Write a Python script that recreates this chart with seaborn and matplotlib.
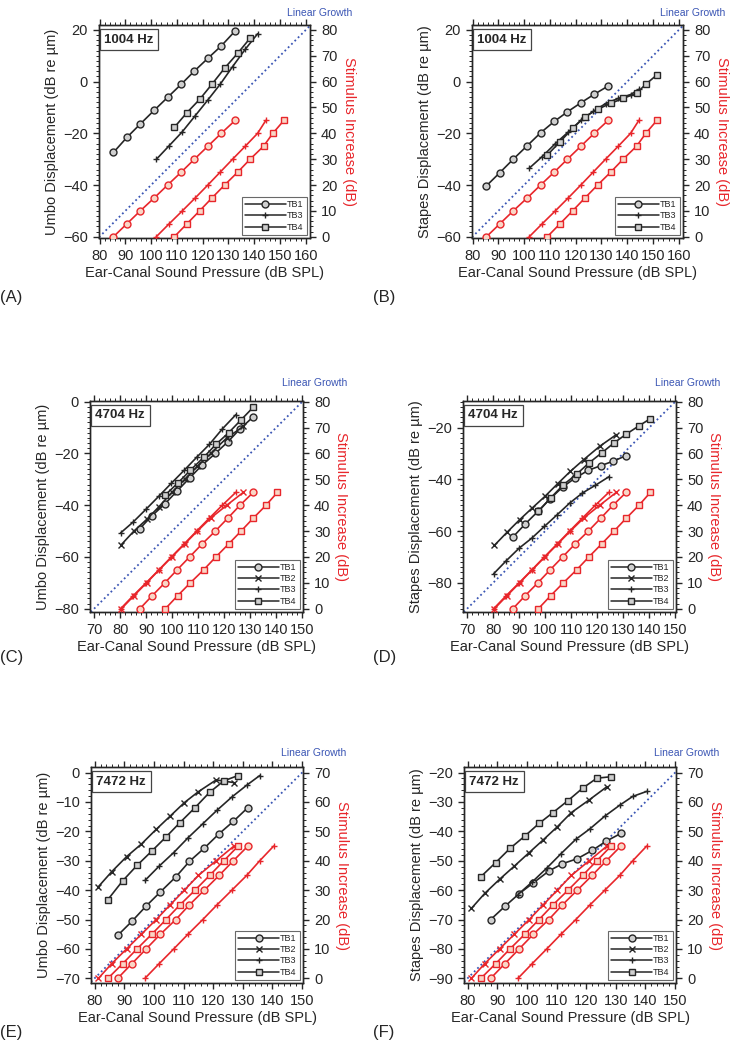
import matplotlib
matplotlib.use("Agg")
import matplotlib.pyplot as plt
from matplotlib.lines import Line2D
from matplotlib.ticker import MultipleLocator
import seaborn as sns

# stimulus increase steps (dB)
stim = [0, 5, 10, 15, 20, 25, 30, 35, 40, 45]

# ---- 1004 Hz ----
spl_1004_tb1 = [85.4, 90.6, 95.8, 101.2, 106.4, 111.7, 116.8, 122.0, 127.2, 132.6]
spl_1004_tb3 = [102.0, 107.0, 112.1, 117.1, 122.0, 126.8, 131.6, 136.5, 141.3, 144.5]
spl_1004_tb4 = [109.0, 113.9, 118.8, 123.6, 128.5, 133.6, 138.4, 143.6, 147.2, 151.5]
umbo_1004_tb1 = [-27.4, -21.6, -16.4, -11.1, -6.1, -1.0, 4.1, 9.0, 13.8, 19.6]
umbo_1004_tb3 = [-30.1, -24.8, -19.4, -13.2, -7.1, -1.0, 5.8, 12.5, 18.5]
umbo_1004_tb4 = [-17.7, -12.0, -6.9, -1.0, 5.2, 11.0, 16.8]
stapes_1004_tb1 = [-40.3, -35.2, -30.0, -24.8, -19.8, -15.4, -11.7, -8.2, -4.9, -1.7]
stapes_1004_tb3 = [-33.5, -29.0, -24.0, -19.5, -15.0, -11.5, -8.5, -6.5, -5.0, -3.0]
stapes_1004_tb4 = [-28.4, -23.3, -18.1, -13.6, -10.7, -8.4, -6.5, -4.5, -1.0, 2.6]

# ---- 4704 Hz ----
spl_4704_tb1 = [87.6, 92.3, 97.2, 101.9, 106.7, 111.5, 116.6, 121.4, 126.1, 131.2]
spl_4704_tb2 = [80.5, 85.3, 90.2, 95.0, 99.9, 104.8, 109.7, 114.8, 121.0, 127.4]
spl_4704_tb3 = [80.2, 85.0, 90.0, 94.9, 99.7, 104.6, 109.4, 114.3, 119.3, 124.5]
spl_4704_tb4 = [97.4, 102.1, 107.0, 112.1, 116.8, 121.7, 126.5, 131.2, 136.1, 140.5]
umbo_4704_tb1 = [-49.0, -44.0, -39.5, -34.5, -29.5, -24.5, -20.0, -15.5, -10.5, -5.8]
umbo_4704_tb2 = [-55.2, -50.0, -45.5, -40.5, -35.0, -30.0, -25.0, -20.0, -14.0, -9.5]
umbo_4704_tb3 = [-50.7, -46.5, -41.5, -36.5, -31.5, -26.5, -21.5, -16.5, -10.5, -5.0]
umbo_4704_tb4 = [-36.0, -31.5, -26.5, -21.5, -16.5, -12.0, -7.0, -2.1]
stapes_4704_tb1 = [-62.3, -57.3, -52.4, -47.5, -43.0, -39.5, -36.5, -34.7, -33.0, -30.8]
stapes_4704_tb2 = [-65.5, -60.5, -55.6, -51.1, -46.6, -41.7, -36.9, -32.4, -27.2, -22.7]
stapes_4704_tb3 = [-76.5, -71.5, -66.6, -62.7, -58.2, -53.7, -49.2, -45.3, -42.3, -39.0]
stapes_4704_tb4 = [-52.4, -47.2, -42.1, -38.0, -33.7, -29.8, -25.9, -22.5, -19.3, -16.5]

# ---- 7472 Hz ----
spl_7472_tb1 = [87.8, 92.6, 97.4, 102.2, 107.4, 112.0, 117.0, 122.0, 126.8, 131.7]
spl_7472_tb2 = [81.3, 85.8, 90.8, 95.8, 100.8, 105.5, 110.3, 115.0, 121.0, 127.0]
spl_7472_tb3 = [97.0, 101.8, 106.7, 111.5, 116.5, 121.3, 126.3, 131.3, 135.7, 140.4]
spl_7472_tb4 = [84.5, 89.5, 94.3, 99.3, 104.1, 108.8, 113.9, 118.8, 123.6, 128.4]
umbo_7472_tb1 = [-55.4, -50.6, -45.4, -40.6, -35.5, -30.2, -25.7, -20.8, -16.6, -11.9]
umbo_7472_tb2 = [-38.8, -33.7, -28.6, -24.3, -19.3, -14.8, -10.2, -6.5, -2.5, -3.4]
umbo_7472_tb3 = [-36.7, -31.8, -27.2, -22.2, -17.4, -12.8, -8.3, -4.3, -1.0]
umbo_7472_tb4 = [-43.2, -36.8, -31.6, -26.7, -21.9, -17.0, -11.9, -6.7, -2.8, -1.0]
stapes_7472_tb1 = [-70.0, -65.5, -61.2, -57.5, -53.5, -51.0, -49.3, -46.5, -43.3, -40.7]
stapes_7472_tb2 = [-66.2, -61.1, -56.3, -51.8, -47.2, -42.9, -38.4, -33.6, -29.3, -24.8]
stapes_7472_tb3 = [-61.5, -57.2, -52.5, -47.6, -42.7, -39.1, -34.8, -31.1, -28.1, -26.4]
stapes_7472_tb4 = [-55.4, -50.6, -45.8, -41.6, -37.3, -33.6, -29.5, -25.3, -21.9, -21.4]

# linear growth reference: start point (SPL, displacement), slope 1 dB/dB
lin_1004_umbo = (80, -60)
lin_1004_stapes = (80, -60)
lin_4704_umbo = (70, -80)
lin_4704_stapes = (70, -90)
lin_7472_umbo = (80, -70)
lin_7472_stapes = (80, -90)

MARKERS = {"TB1": "o", "TB2": "x", "TB3": "+", "TB4": "s"}
BLACK = "#262626"
RED = "#e8262b"
BLUE = "#3a55b4"

sns.set_style("ticks")
plt.rcParams["font.family"] = ["Liberation Sans", "DejaVu Sans"]
plt.rcParams["font.size"] = 10


def draw_panel(rect, freq, black, red, xlim, ylim, offset, xmajor, ymajor,
               ylabel, lin0, letter, letter_xy, lg_xy):
    ax = fig.add_axes(rect)
    ax2 = ax.twinx()

    # linear growth line
    ax.axline(lin0, slope=1, color=BLUE, lw=1.3, ls=(0, (1, 1.6)), zorder=1)

    for name, xs, ys in black:
        mk = MARKERS[name]
        sns.lineplot(x=xs[:len(ys)], y=ys, ax=ax, color=BLACK, lw=1.2,
                     marker=mk, markersize=5 if mk != "+" else 5,
                     markerfacecolor="#cfcfcf" if mk in "os" else BLACK,
                     markeredgecolor=BLACK, markeredgewidth=1.0,
                     sort=False, legend=False, zorder=3)
    for name, xs, ys in red:
        mk = MARKERS[name]
        sns.lineplot(x=xs, y=ys, ax=ax2, color=RED, lw=1.2,
                     marker=mk, markersize=5,
                     markerfacecolor="#f9d6c6" if mk in "os" else RED,
                     markeredgecolor=RED, markeredgewidth=1.0,
                     sort=False, legend=False, zorder=3)

    ax.set_xlim(xlim)
    ax.set_ylim(ylim)
    ax2.set_ylim(ylim[0] + offset, ylim[1] + offset)
    ax.xaxis.set_major_locator(MultipleLocator(xmajor))
    ax.xaxis.set_minor_locator(MultipleLocator(2))
    ax.yaxis.set_major_locator(MultipleLocator(ymajor))
    ax.yaxis.set_minor_locator(MultipleLocator(2))
    ax2.yaxis.set_major_locator(MultipleLocator(10))
    ax2.yaxis.set_minor_locator(MultipleLocator(2))

    ax.tick_params(axis="x", which="both", top=True, direction="out")
    ax.tick_params(which="major", length=4, width=1.0, labelsize=10.5, pad=4)
    ax.tick_params(which="minor", length=2.5, width=0.7)
    ax2.tick_params(which="major", length=4, width=1.0, labelsize=10.5, pad=4)
    ax2.tick_params(which="minor", length=2.5, width=0.7)
    for a in (ax, ax2):
        for sp in a.spines.values():
            sp.set_visible(True)
            sp.set_linewidth(1.0)

    ax.set_xlabel("Ear-Canal Sound Pressure (dB SPL)", fontsize=10.5, labelpad=2)
    ax.set_ylabel(ylabel, fontsize=10.5, labelpad=3)
    ax2.set_ylabel("Stimulus Increase (dB)", color=RED, rotation=270,
                   fontsize=10.5, labelpad=13)

    ax.text(0.025, 0.96, freq, transform=ax.transAxes, ha="left", va="top",
            fontsize=9.5, fontweight="bold", zorder=6,
            bbox=dict(boxstyle="square,pad=0.35", fc="white", ec="#444444", lw=0.9))
    ax.text(lg_xy[0], lg_xy[1], "Linear Growth", transform=ax.transAxes,
            ha="center", va="center", color=BLUE, fontsize=7.5)

    handles = [Line2D([], [], color=BLACK, lw=1.1, marker=MARKERS[n],
                      markersize=5, markerfacecolor="#cfcfcf" if MARKERS[n] in "os" else BLACK,
                      markeredgecolor=BLACK) for n, _, _ in black]
    leg = ax2.legend(handles, [n for n, _, _ in black], loc="lower right",
                     fontsize=6.5, handlelength=4.6, handletextpad=0.1,
                     labelspacing=0.25, borderpad=0.35, borderaxespad=0.35,
                     frameon=True, fancybox=False)
    leg.get_frame().set_edgecolor("#444444")
    leg.get_frame().set_linewidth(0.8)

    fig.text(letter_xy[0], letter_xy[1], letter, fontsize=12, ha="left", va="center")
    return ax


fig = plt.figure(figsize=(7.46, 10.5), dpi=100)

# row 1: 1004 Hz
draw_panel([0.1327, 0.7733, 0.2828, 0.2029], "1004 Hz",
           [("TB1", spl_1004_tb1, umbo_1004_tb1), ("TB3", spl_1004_tb3, umbo_1004_tb3),
            ("TB4", spl_1004_tb4, umbo_1004_tb4)],
           [("TB1", spl_1004_tb1, stim), ("TB3", spl_1004_tb3, stim), ("TB4", spl_1004_tb4, stim)],
           (79.8, 161.6), (-60.5, 21.9), 60, 10, 20,
           "Umbo Displacement (dB re µm)", lin_1004_umbo, "(A)", (0.0, 0.717), (1.047, 1.058))
draw_panel([0.6327, 0.7733, 0.2828, 0.2029], "1004 Hz",
           [("TB1", spl_1004_tb1, stapes_1004_tb1), ("TB3", spl_1004_tb3, stapes_1004_tb3),
            ("TB4", spl_1004_tb4, stapes_1004_tb4)],
           [("TB1", spl_1004_tb1, stim), ("TB3", spl_1004_tb3, stim), ("TB4", spl_1004_tb4, stim)],
           (79.8, 161.6), (-60.5, 21.9), 60, 10, 20,
           "Stapes Displacement (dB re µm)", lin_1004_stapes, "(B)", (0.5, 0.717), (1.047, 1.058))

# row 2: 4704 Hz
draw_panel([0.1206, 0.4171, 0.2855, 0.2010], "4704 Hz",
           [("TB1", spl_4704_tb1, umbo_4704_tb1), ("TB2", spl_4704_tb2, umbo_4704_tb2),
            ("TB3", spl_4704_tb3, umbo_4704_tb3), ("TB4", spl_4704_tb4, umbo_4704_tb4)],
           [("TB1", spl_4704_tb1, stim), ("TB2", spl_4704_tb2, stim),
            ("TB3", spl_4704_tb3, stim), ("TB4", spl_4704_tb4, stim)],
           (68.4, 150.3), (-81.3, 0.3), 80, 10, 20,
           "Umbo Displacement (dB re µm)", lin_4704_umbo, "(C)", (0.0, 0.374), (1.056, 1.087))
draw_panel([0.6206, 0.4171, 0.2855, 0.2010], "4704 Hz",
           [("TB1", spl_4704_tb1, stapes_4704_tb1), ("TB2", spl_4704_tb2, stapes_4704_tb2),
            ("TB3", spl_4704_tb3, stapes_4704_tb3), ("TB4", spl_4704_tb4, stapes_4704_tb4)],
           [("TB1", spl_4704_tb1, stim), ("TB2", spl_4704_tb2, stim),
            ("TB3", spl_4704_tb3, stim), ("TB4", spl_4704_tb4, stim)],
           (68.4, 150.3), (-91.3, -9.7), 90, 10, 20,
           "Stapes Displacement (dB re µm)", lin_4704_stapes, "(D)", (0.5, 0.374), (1.056, 1.087))

# row 3: 7472 Hz
draw_panel([0.1220, 0.0638, 0.2842, 0.2057], "7472 Hz",
           [("TB1", spl_7472_tb1, umbo_7472_tb1), ("TB2", spl_7472_tb2, umbo_7472_tb2),
            ("TB3", spl_7472_tb3, umbo_7472_tb3), ("TB4", spl_7472_tb4, umbo_7472_tb4)],
           [("TB1", spl_7472_tb1, stim), ("TB2", spl_7472_tb2, stim),
            ("TB3", spl_7472_tb3, stim), ("TB4", spl_7472_tb4, stim)],
           (78.8, 150.3), (-71.6, 1.9), 70, 10, 10,
           "Umbo Displacement (dB re µm)", lin_7472_umbo, "(E)", (0.0, 0.017), (1.052, 1.065))
draw_panel([0.6220, 0.0638, 0.2842, 0.2057], "7472 Hz",
           [("TB1", spl_7472_tb1, stapes_7472_tb1), ("TB2", spl_7472_tb2, stapes_7472_tb2),
            ("TB3", spl_7472_tb3, stapes_7472_tb3), ("TB4", spl_7472_tb4, stapes_7472_tb4)],
           [("TB1", spl_7472_tb1, stim), ("TB2", spl_7472_tb2, stim),
            ("TB3", spl_7472_tb3, stim), ("TB4", spl_7472_tb4, stim)],
           (78.8, 150.3), (-91.6, -18.1), 90, 10, 10,
           "Stapes Displacement (dB re µm)", lin_7472_stapes, "(F)", (0.5, 0.017), (1.052, 1.065))

fig.savefig("out.png", dpi=100)
